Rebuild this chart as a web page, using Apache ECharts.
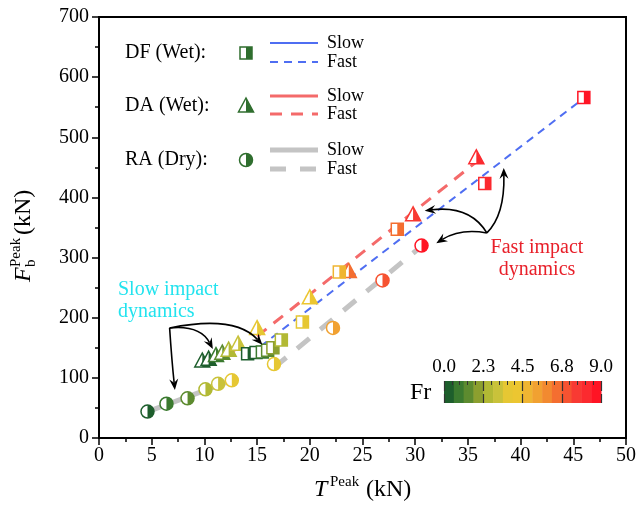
<!DOCTYPE html>
<html lang="en">

<head>
  <meta charset="UTF-8">
  <title>Peak force vs peak tension</title>
  <script src="https://cdn.jsdelivr.net/npm/echarts@6/dist/echarts.min.js"></script>
  <style>
    html, body { margin: 0; padding: 0; background: #fff; }
  </style>
</head>

<body>
  <div id="main" style="width: 639px; height: 515px;"></div>
  <script>
    // ---- data: [T peak, F peak, Fr] ----
    var dfSlowT = [14.1, 14.9, 15.5, 16.0, 16.5, 17.3];
    var dfSlowF = [140, 142, 143, 146, 150, 163];
    var dfSlowFr = [0.2, 0.4, 0.8, 1.3, 1.9, 2.6];
    var dfFastT = [19.3, 22.8, 28.3, 36.6, 46.0];
    var dfFastF = [193, 276, 347, 423, 566];
    var dfFastFr = [3.7, 4.7, 6.3, 8.1, 8.8];

    var daSlowT = [9.8, 10.4, 11.1, 11.7, 12.3, 13.2];
    var daSlowF = [128, 131, 137, 141, 146, 156];
    var daSlowFr = [0.2, 0.4, 1.0, 1.6, 2.3, 3.0];
    var daFastT = [15.0, 20.0, 23.7, 29.8, 35.8];
    var daFastF = [182, 233, 277, 371, 466];
    var daFastFr = [3.6, 4.2, 6.4, 7.7, 8.4];

    var raSlowT = [4.6, 6.4, 8.4, 10.1, 11.3, 12.6];
    var raSlowF = [44, 57, 66, 81, 90, 96];
    var raSlowFr = [0.3, 0.9, 1.5, 2.4, 3.0, 3.6];
    var raFastT = [16.6, 22.2, 26.9, 30.6];
    var raFastF = [123, 183, 262, 320];
    var raFastFr = [3.7, 5.4, 7.2, 8.6];

    // fitted trend lines, [start, end]
    var dfSlowFit = [[14.2, 137], [17.3, 157]];
    var dfFastFit = [[15.3, 152], [46.0, 565]];
    var daSlowFit = [[10.1, 124], [13.2, 149]];
    var daFastFit = [[15.0, 169], [35.8, 459]];
    var raSlowFit = [[4.5, 43], [12.8, 97]];
    var raFastFit = [[16.6, 117], [30.4, 316]];

    // colour bar
    var frBandColors = ['#1d5e2c', '#3b7a2f', '#5d8b2f', '#8c9f2f', '#b2b934', '#c9c23a', '#e6c733', '#ecc631',
      '#efb532', '#f1a131', '#f28a30', '#f46e30', '#f65331', '#f83a33', '#fb2a2f', '#ff1424'];
    var frMax = 9;
    var frTickLabels = ['0.0', '2.3', '4.5', '6.8', '9.0'];

    var xTickMax = 50, yTickMax = 700;

    var serif = '"Liberation Serif", "DejaVu Serif", serif';

    function frColor(fr) {
      var i = Math.floor(fr / frMax * frBandColors.length);
      return frBandColors[Math.max(0, Math.min(frBandColors.length - 1, i))];
    }

    function rows(t, f, fr) {
      return t.map(function (v, i) { return [v, f[i], fr[i]]; });
    }

    function markerShapes(kind, x, y, c) {
      if (kind === 'square') {
        return [
          { type: 'rect', shape: { x: x - 6, y: y - 6, width: 12, height: 12 }, style: { fill: '#fff', stroke: c, lineWidth: 1.5 } },
          { type: 'rect', shape: { x: x, y: y - 6, width: 6, height: 12 }, style: { fill: c } }
        ];
      }
      if (kind === 'triangle') {
        return [
          { type: 'polygon', shape: { points: [[x, y - 8], [x - 7.5, y + 6], [x + 7.5, y + 6]] }, style: { fill: '#fff', stroke: c, lineWidth: 1.5 } },
          { type: 'polygon', shape: { points: [[x, y - 8], [x, y + 6], [x + 7.5, y + 6]] }, style: { fill: c } }
        ];
      }
      return [
        { type: 'circle', shape: { cx: x, cy: y, r: 6.5 }, style: { fill: '#fff', stroke: c, lineWidth: 1.5 } },
        { type: 'sector', shape: { cx: x, cy: y, r0: 0, r: 6.5, startAngle: -Math.PI / 2, endAngle: Math.PI / 2, clockwise: true }, style: { fill: c } }
      ];
    }

    function pointSeries(name, kind, data) {
      return {
        type: 'custom',
        name: name,
        xAxisIndex: 0,
        yAxisIndex: 0,
        z: 5,
        encode: { x: 0, y: 1 },
        data: data,
        renderItem: function (params, api) {
          var p = api.coord([api.value(0), api.value(1)]);
          return { type: 'group', children: markerShapes(kind, p[0], p[1], frColor(api.value(2))) };
        }
      };
    }

    function fitSeries(data, color, width, dash) {
      return {
        type: 'line',
        xAxisIndex: 0,
        yAxisIndex: 0,
        z: 3,
        data: data,
        symbol: 'none',
        silent: true,
        lineStyle: { color: color, width: width, type: dash || 'solid', cap: 'butt' }
      };
    }

    var blue = '#4f6ef2', red = '#f46a6a', gray = '#c4c4c4';

    var myChart = echarts.init(document.getElementById('main'));

    var option = {
      animation: false,
      backgroundColor: '#fff',
      grid: [
        { left: 99, right: 13, top: 17, bottom: 77, show: true, borderColor: '#000', borderWidth: 2 },
        { left: 444, top: 381, width: 157, height: 22 }
      ],
      xAxis: [
        {
          gridIndex: 0, type: 'value', min: 0, max: xTickMax, interval: 5,
          axisLine: { lineStyle: { color: '#000', width: 2 } },
          axisTick: { length: 7, lineStyle: { color: '#000', width: 1.5 } },
          minorTick: { show: true, splitNumber: 2, length: 4, lineStyle: { color: '#000', width: 1.5 } },
          splitLine: { show: false },
          axisLabel: { color: '#000', fontSize: 20, fontFamily: serif, margin: 8 }
        },
        {
          gridIndex: 1, type: 'value', min: 0, max: frMax, interval: frMax / 4, position: 'top', z: 10,
          axisLine: { show: false },
          axisTick: { length: 9, lineStyle: { color: '#333', width: 1.2 } },
          splitLine: { show: false },
          axisLabel: {
            color: '#000', fontSize: 19, fontFamily: serif, margin: 4,
            formatter: function (v) { return frTickLabels[Math.round(v / (frMax / 4))]; }
          }
        },
        {
          gridIndex: 1, type: 'value', min: 0, max: frMax, interval: frMax / 4, position: 'top', z: 10,
          axisLine: { show: false },
          axisTick: { inside: true, length: 10, lineStyle: { color: '#333', width: 1.2 } },
          minorTick: { show: true, splitNumber: 5, length: 4, lineStyle: { color: '#333', width: 1 } },
          splitLine: { show: false },
          axisLabel: { show: false }
        }
      ],
      yAxis: [
        {
          gridIndex: 0, type: 'value', min: 0, max: yTickMax, interval: 100,
          axisLine: { lineStyle: { color: '#000', width: 2 } },
          axisTick: { length: 7, lineStyle: { color: '#000', width: 1.5 } },
          minorTick: { show: true, splitNumber: 2, length: 4, lineStyle: { color: '#000', width: 1.5 } },
          splitLine: { show: false },
          axisLabel: { color: '#000', fontSize: 20, fontFamily: serif, margin: 10 }
        },
        {
          gridIndex: 1, type: 'value', min: 0, max: 1, show: false
        }
      ],
      series: [
        fitSeries(raSlowFit, gray, 5),
        fitSeries(raFastFit, gray, 5, [16, 14]),
        fitSeries(daSlowFit, red, 3),
        fitSeries(daFastFit, red, 3, [12, 9]),
        fitSeries(dfSlowFit, blue, 2),
        fitSeries(dfFastFit, blue, 2, [8, 6]),
        pointSeries('RA slow', 'circle', rows(raSlowT, raSlowF, raSlowFr)),
        pointSeries('RA fast', 'circle', rows(raFastT, raFastF, raFastFr)),
        pointSeries('DA slow', 'triangle', rows(daSlowT, daSlowF, daSlowFr)),
        pointSeries('DA fast', 'triangle', rows(daFastT, daFastF, daFastFr)),
        pointSeries('DF slow', 'square', rows(dfSlowT, dfSlowF, dfSlowFr)),
        pointSeries('DF fast', 'square', rows(dfFastT, dfFastF, dfFastFr)),
        {
          // colour bar bands
          type: 'custom',
          xAxisIndex: 1,
          yAxisIndex: 1,
          silent: true,
          z: 1,
          data: frBandColors.map(function (c, i) { return [i]; }),
          renderItem: function (params, api) {
            var n = frBandColors.length;
            var i = api.value(0);
            var a = api.coord([i * frMax / n, 1]);
            var b = api.coord([(i + 1) * frMax / n, 0]);
            return {
              type: 'rect',
              shape: { x: a[0], y: a[1], width: b[0] - a[0] + 0.5, height: b[1] - a[1] },
              style: { fill: frBandColors[i] }
            };
          }
        }
      ]
    };

    myChart.setOption(option);

    // ---- annotations and legend ----
    function txt(text, x, y, font, fill, align) {
      return {
        type: 'text', x: x, y: y, z: 10,
        style: { text: text, font: font, fill: fill || '#000', align: align || 'left', verticalAlign: 'middle' }
      };
    }

    function seg(x1, x2, y, color, width, dash) {
      return {
        type: 'line', z: 10,
        shape: { x1: x1, y1: y, x2: x2, y2: y },
        style: { stroke: color, lineWidth: width, lineDash: dash || null }
      };
    }

    var g = [];
    var legendRows = [
      { label: 'DF (Wet):', kind: 'square', y: 53, slowY: 43, fastY: 62, color: blue, width: 2, dash: [8, 6] },
      { label: 'DA (Wet):', kind: 'triangle', y: 106, slowY: 96, fastY: 114, color: red, width: 3, dash: [12, 9] },
      { label: 'RA (Dry):', kind: 'circle', y: 160, slowY: 150, fastY: 169, color: gray, width: 5, dash: [16, 14] }
    ];
    legendRows.forEach(function (r) {
      g.push(txt(r.label, 125, r.y, '20px ' + serif));
      markerShapes(r.kind, 246, r.y, '#2f6e2e').forEach(function (s) { s.z = 10; g.push(s); });
      g.push(seg(270, 318, r.slowY, r.color, r.width));
      g.push(seg(270, 318, r.fastY, r.color, r.width, r.dash));
      g.push(txt('Slow', 327, r.slowY, '18px ' + serif));
      g.push(txt('Fast', 327, r.fastY, '18px ' + serif));
    });

    // axis names
    g.push(txt('T', 314, 490, 'italic 24px ' + serif));
    g.push(txt('Peak', 330, 482, '15px ' + serif));
    g.push(txt('(kN)', 366, 490, '24px ' + serif));
    g.push({
      type: 'group', x: 24, y: 282, rotation: Math.PI / 2, z: 10,
      children: [
        txt('F', 0, 0, 'italic 24px ' + serif),
        txt('Peak', 15, -8, '15px ' + serif),
        txt('b', 15, 7, '15px ' + serif),
        txt('(kN)', 47, 0, '24px ' + serif)
      ]
    });

    // colour bar title
    g.push(txt('Fr', 410, 393, '24px ' + serif));

    // annotation texts
    g.push(txt('Slow impact', 118, 290, '20px ' + serif, '#22e3ee'));
    g.push(txt('dynamics', 118, 312, '20px ' + serif, '#22e3ee'));
    g.push(txt('Fast impact', 537, 248, '20px ' + serif, '#e8202a', 'center'));
    g.push(txt('dynamics', 537, 270, '20px ' + serif, '#e8202a', 'center'));

    // curved arrows, in data coordinates: start, control, end
    var arrows = [
      [[6.7, 183], [6.9, 130], [7.2, 80]],
      [[6.7, 183], [9.6, 188], [10.8, 148]],
      [[6.7, 183], [12.9, 205], [15.5, 155]],
      [[36.8, 341], [38.5, 370], [38.4, 449]],
      [[36.8, 341], [35.2, 387], [30.9, 378]],
      [[36.8, 341], [34.3, 349], [32.0, 324]]
    ];
    arrows.forEach(function (a) {
      var p = a.map(function (d) { return myChart.convertToPixel({ gridIndex: 0 }, d); });
      var s = p[0], c = p[1], e = p[2];
      var dx = e[0] - c[0], dy = e[1] - c[1];
      var len = Math.sqrt(dx * dx + dy * dy);
      var ux = dx / len, uy = dy / len;
      var hl = 11, hw = 4.5;
      var bx = e[0] - ux * hl, by = e[1] - uy * hl;
      var nx = e[0] - ux * hl * 0.65, ny = e[1] - uy * hl * 0.65;
      g.push({
        type: 'bezierCurve', z: 9,
        shape: { x1: s[0], y1: s[1], cpx1: c[0], cpy1: c[1], x2: nx, y2: ny },
        style: { stroke: '#000', lineWidth: 1.6, fill: null }
      });
      g.push({
        type: 'polygon', z: 9,
        shape: { points: [[e[0], e[1]], [bx - uy * hw, by + ux * hw], [nx, ny], [bx + uy * hw, by - ux * hw]] },
        style: { fill: '#000' }
      });
    });

    myChart.setOption({ graphic: g });
  </script>
</body>

</html>
